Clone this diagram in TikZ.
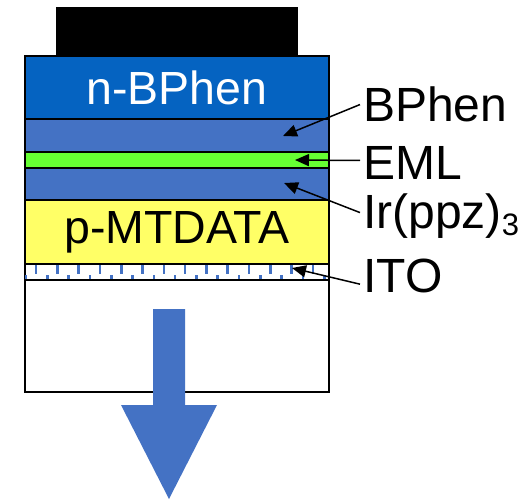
\documentclass[tikz,border=0pt]{standalone}
\usepackage{fontspec}
\setmainfont{Liberation Sans}
\usetikzlibrary{arrows.meta,positioning}

\definecolor{cathblue}{RGB}{5,99,193}
\definecolor{layblue}{RGB}{68,114,196}
\definecolor{emlgreen}{RGB}{102,255,51}
\definecolor{htlyellow}{RGB}{255,255,102}

\tikzset{
  layer/.style={draw=black,line width=1.2pt,minimum width=304pt,inner sep=0pt,
    font=\fontsize{46.5}{50}\selectfont},
  lbl/.style={anchor=base west,inner xsep=3pt,inner ysep=0pt,
    font=\fontsize{48}{52}\selectfont},
  pointer/.style={-{Triangle[length=14pt,width=12pt]},line width=1.5pt},
}

\begin{document}
\begin{tikzpicture}[x=1pt,y=-1pt]
  \useasboundingbox (0,0) rectangle (531,499);

  % Cathode contact
  \node[fill=black,minimum width=242pt,minimum height=49pt,inner sep=0pt] (cathode) at (177,31.5) {};

  % Layer stack
  \node[layer,fill=cathblue,text=white,minimum height=63pt] (nbphen) at (177,87.5) {n-BPhen};
  \node[layer,fill=layblue,minimum height=33pt] (bphen) at (177,135.5) {};
  \node[layer,fill=emlgreen,minimum height=16pt] (eml) at (177,160) {};
  \node[layer,fill=layblue,minimum height=32pt] (irppz) at (177,184) {};
  \node[layer,fill=htlyellow,minimum height=64pt] (mtdata) at (177,232) {p-MTDATA};
  \node[layer,fill=white,minimum height=16pt] (ito) at (177,272) {};
  \node[layer,fill=white,minimum height=112pt] (glass) at (177,336) {};

  % ITO texture
  \foreach \i in {0,...,13}
    \draw[layblue,line width=2.6pt] (36+21.3*\i,265) -- (36+21.3*\i,273.5);
  \foreach \i in {0,...,14}
    \draw[layblue,line width=2.6pt] (26+21.3*\i,275) -- (26+21.3*\i,278.5);
  \draw[line width=1.2pt] (ito.north west) -- (ito.north east);
  \draw[line width=1.2pt] (ito.south west) -- (ito.south east);

  % Emission arrow
  \fill[layblue] (153,309) -- (185,309) -- (185,405) -- (217,405) -- (169,499)
    -- (121,405) -- (153,405) -- cycle;

  % Labels
  \node[lbl] (bphenlbl) at (360,121.7) {BPhen};
  \node[lbl] (emllbl) at (360,179) {EML};
  \node[lbl] (irlbl) at (360,228) {Ir(ppz)\raisebox{-0.15em}{\fontsize{31}{31}\selectfont 3}};
  \node[lbl] (itolbl) at (360,292.7) {ITO};

  \coordinate (bphentip) at (283,136);
  \coordinate (emltip) at (295,160);
  \coordinate (irtip) at (284,183);
  \coordinate (itotip) at (292,268);

  \draw[pointer] (bphenlbl.west) -- (bphentip);
  \draw[pointer] ([yshift=2pt]emllbl.west) -- (emltip);
  \draw[pointer] ([yshift=3pt]irlbl.west) -- (irtip);
  \draw[pointer] ([yshift=-8pt]itolbl.west) -- (itotip);
\end{tikzpicture}
\end{document}
